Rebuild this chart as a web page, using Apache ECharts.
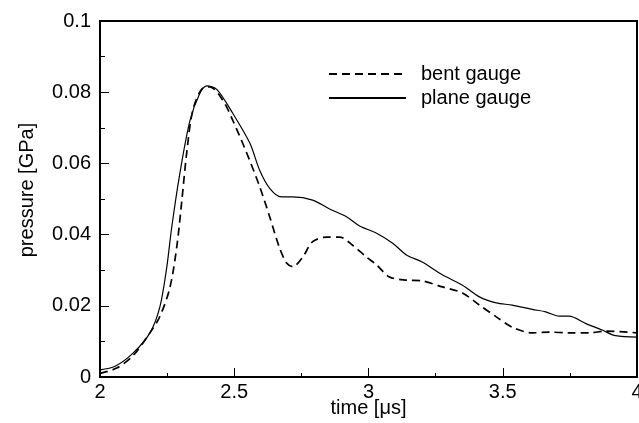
<!DOCTYPE html>
<html>
<head>
<meta charset="utf-8">
<script src="https://cdn.jsdelivr.net/npm/echarts@6/dist/echarts.min.js"></script>
<style>
  html, body { margin: 0; padding: 0; background: #fff; }
  #chart { width: 639px; height: 423px; }
</style>
</head>
<body>
<div id="chart"></div>
<script>
// plane gauge (solid)
var planeTime = [2.0, 2.056, 2.123, 2.186, 2.223, 2.249, 2.267, 2.297, 2.335, 2.372, 2.398, 2.435, 2.495, 2.558, 2.595, 2.632, 2.675, 2.718, 2.792, 2.855, 2.918, 2.967, 3.03, 3.09, 3.141, 3.2, 3.275, 3.35, 3.413, 3.476, 3.535, 3.61, 3.66, 3.71, 3.747, 3.81, 3.87, 3.92, 4.0];
var planeValue = [0.002, 0.003, 0.0067, 0.0124, 0.0197, 0.031, 0.042, 0.057, 0.072, 0.0797, 0.0818, 0.0808, 0.074, 0.0657, 0.058, 0.053, 0.0506, 0.0506, 0.0497, 0.0472, 0.045, 0.0424, 0.0404, 0.0376, 0.0343, 0.0323, 0.0287, 0.0258, 0.0225, 0.0208, 0.0202, 0.019, 0.0183, 0.0171, 0.0171, 0.015, 0.0132, 0.0116, 0.0112];

// bent gauge (dashed)
var bentTime = [2.0, 2.062, 2.123, 2.186, 2.223, 2.26, 2.286, 2.305, 2.323, 2.346, 2.383, 2.409, 2.457, 2.495, 2.546, 2.595, 2.632, 2.669, 2.695, 2.718, 2.755, 2.792, 2.844, 2.892, 2.941, 2.992, 3.03, 3.078, 3.141, 3.2, 3.275, 3.35, 3.413, 3.476, 3.535, 3.61, 3.673, 3.747, 3.822, 3.885, 4.0];
var bentValue = [0.001, 0.0025, 0.006, 0.0124, 0.017, 0.025, 0.0366, 0.0497, 0.063, 0.075, 0.0812, 0.0815, 0.0778, 0.072, 0.063, 0.0534, 0.045, 0.0362, 0.032, 0.031, 0.0337, 0.038, 0.0393, 0.0393, 0.037, 0.0337, 0.0315, 0.0281, 0.0272, 0.027, 0.0253, 0.0236, 0.0202, 0.0169, 0.014, 0.0124, 0.0126, 0.0124, 0.0124, 0.0129, 0.0124];

var seriesNames = ['bent gauge', 'plane gauge'];

function pairs(xs, ys) {
    var out = [];
    for (var i = 0; i < xs.length; i++) {
        out.push([xs[i], ys[i]]);
    }
    return out;
}

var font = 'Liberation Sans, Arial, Helvetica, sans-serif';
var dom = document.getElementById('chart');
var myChart = echarts.init(dom, null, { renderer: 'canvas' });

var option = {
    animation: false,
    backgroundColor: '#fff',
    textStyle: { fontFamily: font, color: '#000' },
    grid: {
        left: 100,
        right: 2,
        top: 21,
        bottom: 46,
        outerBoundsMode: 'none',
        containLabel: false,
        show: true,
        borderColor: '#000',
        borderWidth: 2,
        backgroundColor: 'transparent'
    },
    legend: {
        data: seriesNames,
        orient: 'vertical',
        left: 323,
        top: 59,
        itemWidth: 77,
        itemHeight: 14,
        itemGap: 4,
        itemStyle: { opacity: 0 },
        textStyle: { fontSize: 20, color: '#000', fontFamily: font, padding: [0, 0, 0, 10] }
    },
    xAxis: {
        type: 'value',
        min: 2,
        max: 4,
        interval: 0.5,
        name: 'time [\u03bcs]',
        nameLocation: 'middle',
        nameGap: 21,
        nameMoveOverlap: false,
        nameTextStyle: { fontSize: 20, color: '#000', fontFamily: font, verticalAlign: 'top' },
        axisLine: { lineStyle: { color: '#000', width: 2 } },
        axisTick: { inside: true, length: 9, lineStyle: { color: '#000', width: 1 } },
        minorTick: { show: true, splitNumber: 2, length: 4, lineStyle: { color: '#000', width: 1 } },
        axisLabel: { fontSize: 20, color: '#000', margin: 5, fontFamily: font },
        splitLine: { show: false }
    },
    yAxis: {
        type: 'value',
        min: 0,
        max: 0.1,
        interval: 0.02,
        name: 'pressure [GPa]',
        nameLocation: 'middle',
        nameGap: 63,
        nameMoveOverlap: false,
        nameTextStyle: { fontSize: 20, color: '#000', fontFamily: font, padding: [0, 0, 0, 18] },
        axisLine: { lineStyle: { color: '#000', width: 2 } },
        axisTick: { inside: true, length: 9, lineStyle: { color: '#000', width: 1 } },
        minorTick: { show: true, splitNumber: 2, length: 5, lineStyle: { color: '#000', width: 1 } },
        axisLabel: { fontSize: 20, color: '#000', margin: 9, fontFamily: font },
        splitLine: { show: false }
    },
    series: [
        {
            name: seriesNames[0],
            type: 'line',
            data: pairs(bentTime, bentValue),
            symbol: 'none',
            smooth: 0.3,
            lineStyle: { color: '#000', width: 1.7, type: [8, 5] },
            itemStyle: { color: '#000' }
        },
        {
            name: seriesNames[1],
            type: 'line',
            data: pairs(planeTime, planeValue),
            symbol: 'none',
            smooth: 0.3,
            lineStyle: { color: '#000', width: 1.2, type: 'solid' },
            itemStyle: { color: '#000' }
        }
    ]
};

if (option && typeof option === 'object') {
    myChart.setOption(option);
}
</script>
</body>
</html>
